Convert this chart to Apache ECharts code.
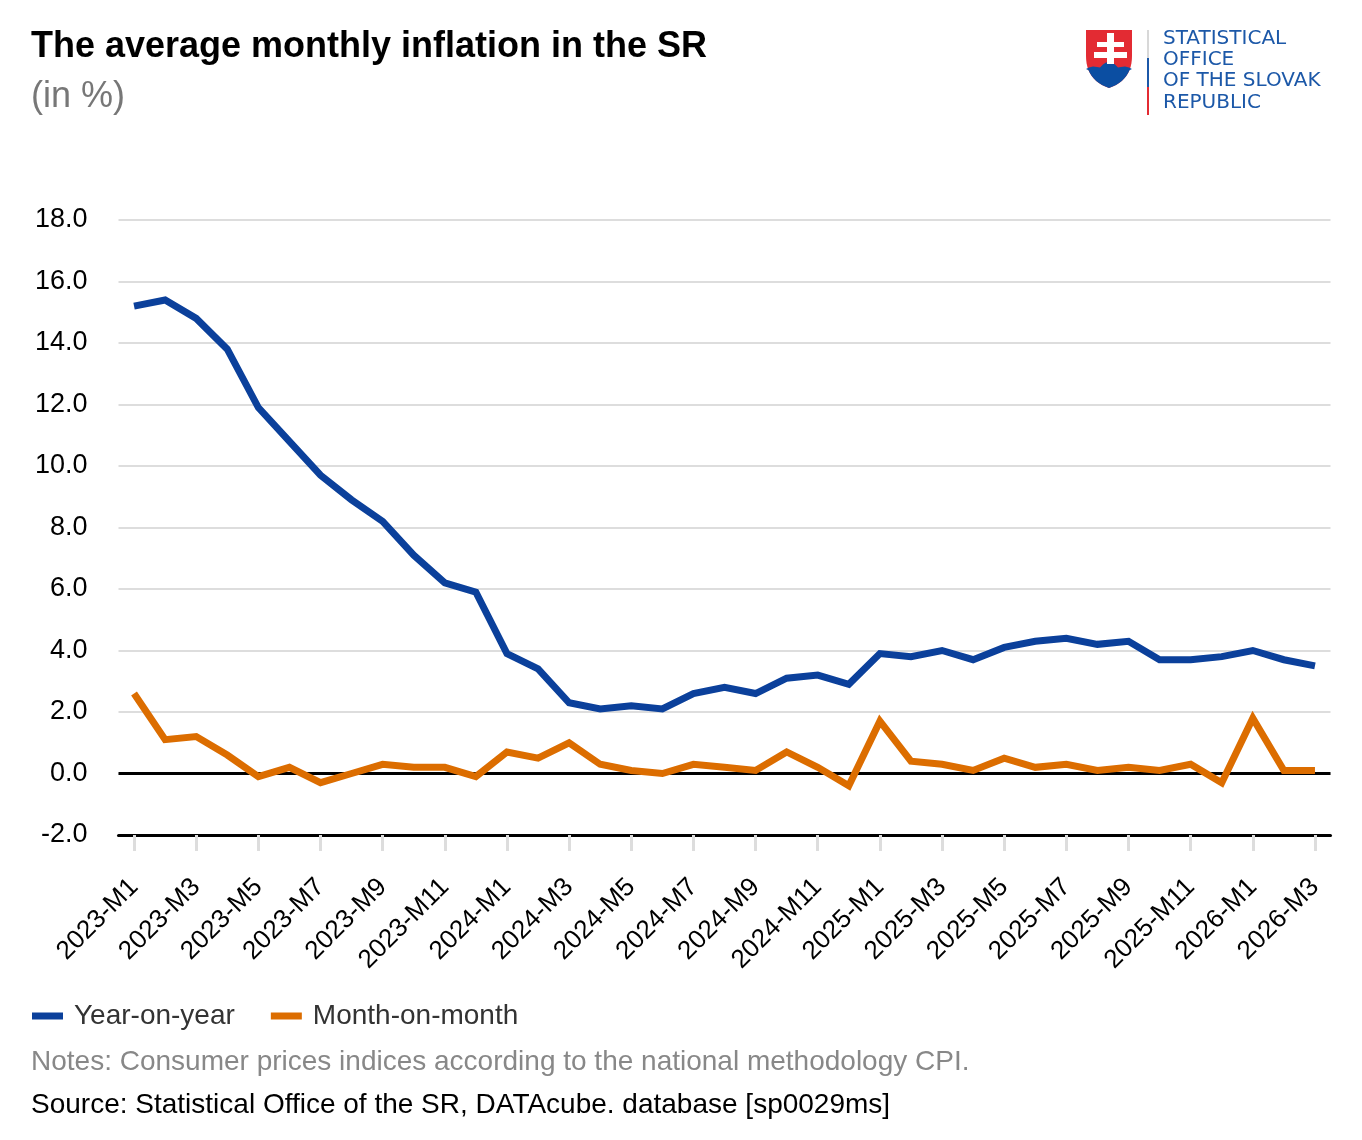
<!DOCTYPE html>
<html>
<head>
<meta charset="utf-8">
<script src="https://cdn.jsdelivr.net/npm/echarts@6/dist/echarts.min.js"></script>
<style>
html,body{margin:0;padding:0;background:#fff;}
#chart{width:1362px;height:1140px;}
</style>
</head>
<body>
<div id="chart"></div>
<script>
const categories = [
  '2023-M1','2023-M2','2023-M3','2023-M4','2023-M5','2023-M6','2023-M7','2023-M8','2023-M9','2023-M10','2023-M11','2023-M12',
  '2024-M1','2024-M2','2024-M3','2024-M4','2024-M5','2024-M6','2024-M7','2024-M8','2024-M9','2024-M10','2024-M11','2024-M12',
  '2025-M1','2025-M2','2025-M3','2025-M4','2025-M5','2025-M6','2025-M7','2025-M8','2025-M9','2025-M10','2025-M11','2025-M12',
  '2026-M1','2026-M2','2026-M3'
];
const yearOnYear = [
  15.2,15.4,14.8,13.8,11.9,10.8,9.7,8.9,8.2,7.1,6.2,5.9,
  3.9,3.4,2.3,2.1,2.2,2.1,2.6,2.8,2.6,3.1,3.2,2.9,
  3.9,3.8,4.0,3.7,4.1,4.3,4.4,4.2,4.3,3.7,3.7,3.8,
  4.0,3.7,3.5
];
const monthOnMonth = [
  2.6,1.1,1.2,0.6,-0.1,0.2,-0.3,0.0,0.3,0.2,0.2,-0.1,
  0.7,0.5,1.0,0.3,0.1,0.0,0.3,0.2,0.1,0.7,0.2,-0.4,
  1.7,0.4,0.3,0.1,0.5,0.2,0.3,0.1,0.2,0.1,0.3,-0.3,
  1.8,0.1,0.1
];
const yTicks = {min: -2, max: 18, interval: 2};

const FONT = '"Liberation Sans", Arial, Helvetica, sans-serif';
const BLUE = '#0b409b';
const ORANGE = '#dc6d00';
const LOGO_BLUE = '#1c58a8';

// ---- logo geometry (decoration only) ----
function quad(p0, c, p1, n) {
  const pts = [];
  for (let i = 0; i <= n; i++) {
    const t = i / n, a = (1 - t) * (1 - t), b = 2 * (1 - t) * t, d = t * t;
    pts.push([a * p0[0] + b * c[0] + d * p1[0], a * p0[1] + b * c[1] + d * p1[1]]);
  }
  return pts;
}
const rightCurve = quad([1132, 56], [1132, 80], [1109, 88], 12);
const leftCurve = quad([1109, 88], [1086, 80], [1086, 56], 12);
const shieldPts = [[1086, 30], [1132, 30]].concat(rightCurve, leftCurve);
const hillTop = [[1086, 69], [1089, 67.5], [1093, 66.5], [1097, 67], [1100, 67.5], [1103, 64.5], [1106, 62.5], [1109, 62], [1112, 62.5], [1115, 64.5], [1118, 67.5], [1121, 67], [1125, 66.5], [1129, 67.5], [1132, 69]];
const hillPts = hillTop.concat(rightCurve.filter(p => p[1] > 69), leftCurve.filter(p => p[1] > 69));

const LOGO_FONT = '20px "DejaVu Sans", sans-serif';

const chart = echarts.init(document.getElementById('chart'), null, {renderer: 'canvas'});
chart.setOption({
  backgroundColor: '#ffffff',
  animation: false,
  textStyle: {fontFamily: FONT},
  title: [
    {text: 'The average monthly inflation in the SR', left: 31, top: 29, padding: 0,
     textStyle: {fontSize: 36, fontWeight: 'bold', color: '#000', fontFamily: FONT}},
    {text: '(in %)', left: 31, top: 79, padding: 0,
     textStyle: {fontSize: 36, fontWeight: 'normal', color: '#777', fontFamily: FONT}},
    {text: 'Notes: Consumer prices indices according to the national methodology CPI.', left: 31, top: 1048, padding: 0,
     textStyle: {fontSize: 28, fontWeight: 'normal', color: '#888', fontFamily: FONT}},
    {text: 'Source: Statistical Office of the SR, DATAcube. database [sp0029ms]', left: 31, top: 1091, padding: 0,
     textStyle: {fontSize: 28, fontWeight: 'normal', color: '#000', fontFamily: FONT}}
  ],
  legend: {
    left: 32, top: 1002, padding: 0,
    icon: 'rect', itemWidth: 31, itemHeight: 7, itemGap: 36,
    textStyle: {fontSize: 28, color: '#333', fontFamily: FONT, padding: [0, 0, 0, 6]},
    data: ['Year-on-year', 'Month-on-month']
  },
  grid: {left: 118.5, right: 31.5, top: 220, bottom: 305, containLabel: false},
  xAxis: {
    type: 'category',
    data: categories,
    boundaryGap: true,
    axisLine: {onZero: false, lineStyle: {color: '#000', width: 3}},
    axisTick: {show: true, interval: 1, alignWithLabel: true, length: 16, lineStyle: {color: '#dddddd', width: 3}},
    axisLabel: {interval: 1, rotate: 45, fontSize: 26, color: '#000', margin: 48, padding: [31, 0, 0, 0], fontFamily: FONT},
    splitLine: {show: false}
  },
  yAxis: {
    type: 'value',
    min: yTicks.min, max: yTicks.max, interval: yTicks.interval,
    axisLine: {show: false},
    axisTick: {show: false},
    axisLabel: {fontSize: 27, color: '#000', margin: 31, padding: [10, 0, 0, 0], fontFamily: FONT,
      formatter: v => v.toFixed(1)},
    splitLine: {show: true, lineStyle: {color: '#dddddd', width: 2}}
  },
  series: [
    {
      name: 'Year-on-year', type: 'line', data: yearOnYear,
      showSymbol: false, symbol: 'none',
      lineStyle: {color: BLUE, width: 7, cap: 'butt', join: 'miter'},
      itemStyle: {color: BLUE},
      z: 3
    },
    {
      name: 'Month-on-month', type: 'line', data: monthOnMonth,
      showSymbol: false, symbol: 'none',
      lineStyle: {color: ORANGE, width: 7, cap: 'butt', join: 'miter'},
      itemStyle: {color: ORANGE},
      markLine: {
        silent: true, symbol: 'none', label: {show: false},
        lineStyle: {color: '#000', width: 3, type: 'solid'},
        data: [{yAxis: 0}],
        z: 1
      },
      z: 4
    }
  ],
  graphic: [
    {type: 'polygon', shape: {points: shieldPts}, style: {fill: '#e32b33'}, silent: true},
    {type: 'polygon', shape: {points: hillPts}, style: {fill: '#0b4ea2'}, silent: true},
    {type: 'rect', shape: {x: 1107, y: 33, width: 7, height: 31}, style: {fill: '#fff'}, silent: true},
    {type: 'rect', shape: {x: 1097, y: 42, width: 27, height: 5}, style: {fill: '#fff'}, silent: true},
    {type: 'rect', shape: {x: 1094, y: 52, width: 33, height: 6}, style: {fill: '#fff'}, silent: true},
    {type: 'rect', shape: {x: 1147, y: 30, width: 2, height: 28}, style: {fill: '#d8d8d8'}, silent: true},
    {type: 'rect', shape: {x: 1147, y: 58, width: 2, height: 29}, style: {fill: '#1c58a8'}, silent: true},
    {type: 'rect', shape: {x: 1147, y: 87, width: 2, height: 28}, style: {fill: '#e32b33'}, silent: true},
    {type: 'text', left: 1163, top: 28.5, style: {text: 'STATISTICAL', fill: LOGO_BLUE, font: LOGO_FONT}, silent: true},
    {type: 'text', left: 1163, top: 49.5, style: {text: 'OFFICE', fill: LOGO_BLUE, font: LOGO_FONT}, silent: true},
    {type: 'text', left: 1163, top: 71, style: {text: 'OF THE SLOVAK', fill: LOGO_BLUE, font: LOGO_FONT}, silent: true},
    {type: 'text', left: 1163, top: 92.5, style: {text: 'REPUBLIC', fill: LOGO_BLUE, font: LOGO_FONT}, silent: true}
  ]
});
</script>
</body>
</html>
